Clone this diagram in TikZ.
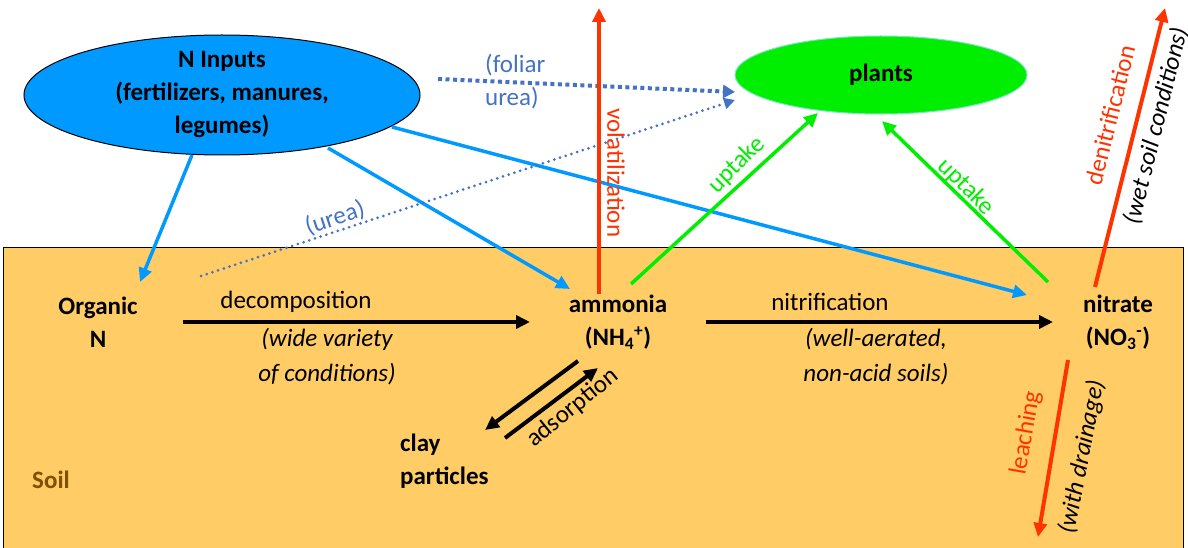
\documentclass[tikz,border=0pt]{standalone}
\usepackage{fontspec}
\setmainfont{Carlito}
\usetikzlibrary{arrows.meta,shapes.geometric}
\definecolor{soil}{RGB}{255,204,102}
\definecolor{nblue}{RGB}{0,153,255}
\definecolor{dblue}{RGB}{68,114,196}
\definecolor{ngreen}{RGB}{0,238,0}
\definecolor{nred}{RGB}{255,51,0}
\definecolor{soilbrown}{RGB}{127,80,0}
\definecolor{plantedge}{RGB}{120,230,190}
\begin{document}
\begin{tikzpicture}[x=1pt,y=-1pt,
  txt/.style={font=\fontsize{25}{33}\selectfont, inner sep=0pt, align=center},
  btxt/.style={txt, font=\fontsize{25}{33}\selectfont\bfseries},
  itxt/.style={txt, font=\fontsize{25}{35}\selectfont\itshape},
  tip/.style={-{Triangle[length=14pt,width=13pt]}},
  blkarrow/.style={tip, line width=4pt, black},
  bluearrow/.style={tip, line width=3.5pt, nblue},
  greenarrow/.style={tip, line width=3.5pt, ngreen},
  redarrow/.style={tip, line width=4pt, nred},
  foliar/.style={-{Triangle[length=12pt,width=13pt]}, line width=4pt, dblue, dash pattern=on 4pt off 3.5pt},
  ureadot/.style={-{Triangle[length=11pt,width=11pt]}, line width=3pt, dblue, line cap=round, dash pattern=on 0pt off 6pt},
]
\useasboundingbox (0,0) rectangle (1188,548);
% soil
\fill[soil] (3,247) rectangle (1183,548);
\draw[line width=1pt] (3,548) -- (3,247) -- (1183,247) -- (1183,548);
\node[btxt, text=soilbrown] (soillbl) at (51,480) {Soil};

% ellipses
\node[ellipse, draw=black, line width=1pt, fill=nblue, minimum width=396pt, minimum height=120pt, inner sep=0pt] (inp) at (222,95) {};
\node[btxt] (inptxt) at (222,95) {N Inputs\\(fertilizers, manures,\\legumes)};
\node[ellipse, draw=plantedge, line width=1pt, fill=ngreen, minimum width=292pt, minimum height=78pt, inner sep=0pt] (plants) at (881,75) {};
\node[btxt] (plantstxt) at (881,75) {plants};

% soil nodes
\node[btxt] (org) at (98,322) {Organic\\N};
\node[btxt] (amm) at (618,322) {ammonia\\(NH\textsubscript{4}\textsuperscript{+})};
\node[btxt] (nit) at (1118,322) {nitrate\\(NO\textsubscript{3}\textsuperscript{-})};
\node[btxt, align=left, anchor=west] (clay) at (400,461) {clay\\particles};

% connector end points
\coordinate (inpA) at (192,155);
\coordinate (inpB) at (328,148);
\coordinate (inpC) at (392,127);
\coordinate (orgIn) at (140,282);
\coordinate (ammIn) at (570,289);
\coordinate (nitIn) at (1027,295);
\coordinate (folS) at (438,79);
\coordinate (plantW) at (735,92);
\coordinate (ureaS) at (201,276);
\coordinate (plantW2) at (735,100);
\coordinate (decS) at (183,322);
\coordinate (decE) at (530,322);
\coordinate (nitS) at (706,322);
\coordinate (nitE) at (1053,322);
\coordinate (volS) at (599,294);
\coordinate (volE) at (599,8);
\coordinate (up1S) at (631,284);
\coordinate (up1E) at (818,113);
\coordinate (up2S) at (1048,282);
\coordinate (up2E) at (882,121);
\coordinate (denS) at (1095,287);
\coordinate (denE) at (1165,8);
\coordinate (leaS) at (1068,360);
\coordinate (leaE) at (1038,537);
\coordinate (adsS) at (578,361);
\coordinate (adsE) at (485,430);
\coordinate (ads2S) at (505,438);
\coordinate (ads2E) at (598,368);

% blue input arrows
\draw[bluearrow] (inpA) -- (orgIn);
\draw[bluearrow] (inpB) -- (ammIn);
\draw[bluearrow] (inpC) -- (nitIn);
% dotted urea arrows
\draw[foliar] (folS) -- (plantW);
\draw[ureadot] (ureaS) -- (plantW2);
\node[txt, text=dblue, align=left, anchor=west] (foliarlbl) at (485,82) {(foliar\\urea)};
\node[txt, text=dblue, rotate=18] (urealbl) at (335,218) {(urea)};

% black process arrows
\draw[blkarrow] (decS) -- (decE);
\node[txt] (declbl) at (296,302) {decomposition};
\node[itxt] (deccond) at (327,357) {(wide variety\\of conditions)};
\draw[blkarrow] (nitS) -- (nitE);
\node[txt] (nitlbl) at (830,302) {nitrification};
\node[itxt] (nitcond) at (876,357) {(well-aerated,\\non-acid soils)};
\draw[blkarrow] (adsS) -- (adsE);
\draw[blkarrow] (ads2S) -- (ads2E);
\node[txt, rotate=39] (adslbl) at (573,408) {adsorption};

% red arrows
\draw[redarrow] (volS) -- (volE);
\node[txt, text=nred, rotate=-90] (vollbl) at (616,173) {volatilization};
\draw[redarrow] (denS) -- (denE);
\node[txt, text=nred, rotate=76] (denlbl) at (1110,115) {denitrification};
\node[itxt, rotate=76] (dencond) at (1156,126) {(wet soil conditions)};
\draw[redarrow] (leaS) -- (leaE);
\node[txt, text=nred, rotate=80] (lealbl) at (1026,433) {leaching};
\node[itxt, rotate=79] (leacond) at (1082,457) {(with drainage)};

% green uptake arrows
\draw[greenarrow] (up1S) -- (up1E);
\node[txt, text=ngreen, rotate=45] (up1lbl) at (737,165) {uptake};
\draw[greenarrow] (up2S) -- (up2E);
\node[txt, text=ngreen, rotate=-45] (up2lbl) at (966,187) {uptake};
\end{tikzpicture}
\end{document}
